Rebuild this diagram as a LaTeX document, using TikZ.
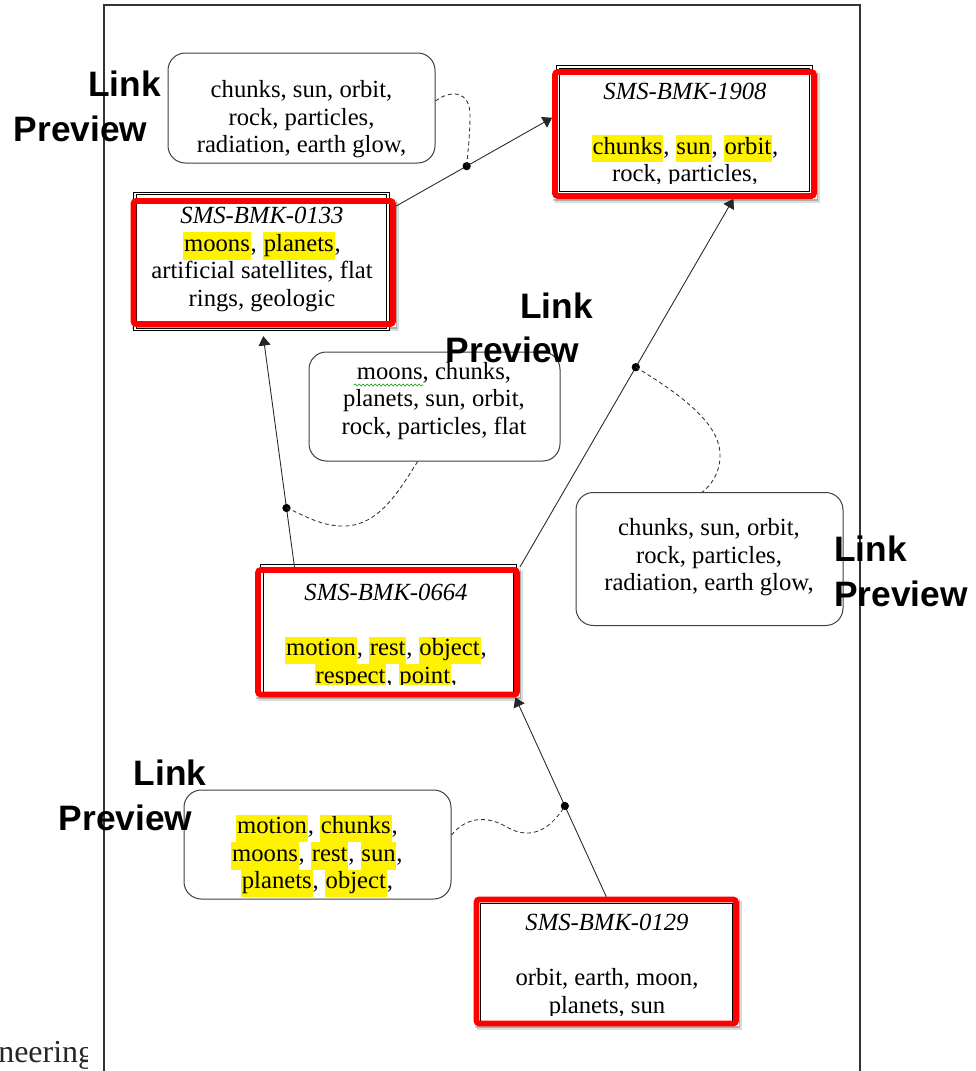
\documentclass[tikz,border=0pt]{standalone}
\usepackage{fontspec}
\setmainfont{Liberation Serif}
\newfontfamily\lblfont{Liberation Sans}
\usetikzlibrary{arrows.meta,fit,shadows,decorations.pathmorphing}

% yellow word highlight, one baselineskip tall so line spacing is kept
\newcommand\hlw[1]{{\setlength\fboxsep{0pt}\colorbox{yellow}{\rule[-0.3\baselineskip]{0pt}{\baselineskip}\kern0.6pt#1\kern0.6pt}}}

\tikzset{
  frameline/.style={draw=black!80, line width=0.8pt},
  lpbox/.style={draw=black!75, line width=0.75pt, rounded corners=13pt, inner sep=0pt, fill=white},
  redbox/.style={inner sep=2.15pt, outer sep=0pt, fill=white,
    drop shadow={shadow xshift=1pt, shadow yshift=-1.5pt, opacity=0.22, fill=black},
    drop shadow={shadow xshift=2.2pt, shadow yshift=-3pt, opacity=0.14, fill=black}},
  redline/.style={draw=red, line width=4.3pt, rounded corners=2pt},
  innerbox/.style={draw=black, line width=0.7pt, double=white, double distance=1.1pt, inner sep=0pt},
  boxtext/.style={font=\fontsize{18.5}{20.55}\selectfont, align=center, inner sep=0pt},
  lbl/.style={font={\lblfont\bfseries\fontsize{26.5}{30}\selectfont}, inner sep=0pt, anchor=base west},
  link/.style={draw=black!85, line width=0.65pt, -{Triangle[length=7pt,width=9pt]}},
  preview/.style={draw=black!80, line width=0.65pt, dash pattern=on 3pt off 2.2pt},
  dot/.style={circle, fill=black, inner sep=0pt, minimum size=6.2pt},
}

\begin{document}
\begin{tikzpicture}[x=0.75pt, y=-0.75pt]
\useasboundingbox (0,0) rectangle (975,1071);

% page frame and the cut-off word at the lower left
\draw[frameline] (104,1071) -- (104,5) -- (860,5) -- (860,1071);
\begin{scope}
  \clip (0,1030) rectangle (87,1071);
  \node[anchor=base west, inner sep=0pt, font=\fontsize{24}{28}\selectfont, text=black!85] (neer) at (-2,1062) {neering};
\end{scope}

% red frame corners (line centres)
\coordinate (a1908) at (555,72);    \coordinate (b1908) at (814,196);
\coordinate (a0133) at (133.5,201); \coordinate (b0133) at (393,324);
\coordinate (a0664) at (258,570);   \coordinate (b0664) at (517,694.5);
\coordinate (a0129) at (476.5,899.5); \coordinate (b0129) at (736,1023.5);

% white backgrounds with soft shadows
\node[redbox, fit=(a1908)(b1908)] (r1908) {};
\node[redbox, fit=(a0133)(b0133)] (r0133) {};
\node[redbox, fit=(a0664)(b0664)] (r0664) {};
\node[redbox, fit=(a0129)(b0129)] (r0129) {};

% inner document boxes
\node[innerbox, fit={(558,67) (811,193)}] (f1908) {};
\node[innerbox, fit={(135,193.5) (388,329.5)}] (f0133) {};
\node[innerbox, fit={(262,566) (515,694)}] (f0664) {};
\node[innerbox, fit={(479,902) (733.5,1024)}] (f0129) {};

% document texts
\begin{scope}
  \clip (556,60) rectangle (813,183.5);
  \node[boxtext] (t1908) at (685,134.9) {\strut\textit{SMS-BMK-1908}\\[20.55pt]
    \hlw{chunks}, \hlw{sun}, \hlw{orbit},\\ rock, particles,\strut};
\end{scope}
\node[boxtext] (t0133) at (262,259.6) {\strut\textit{SMS-BMK-0133}\\
  \hlw{moons}, \hlw{planets},\\ artificial satellites, flat\\ rings, geologic\strut};
\begin{scope}
  \clip (260,560) rectangle (517,684.5);
  \node[boxtext] (t0664) at (386,636.6) {\strut\textit{SMS-BMK-0664}\\[20.55pt]
    \hlw{motion}, \hlw{rest}, \hlw{object},\\ \hlw{respect}, \hlw{point},\strut};
\end{scope}
\begin{scope}
  \clip (477,895) rectangle (735,1015);
  \node[boxtext] (t0129) at (607,966.6) {\strut\textit{SMS-BMK-0129}\\[20.55pt]
    orbit, earth, moon,\\ planets, sun\strut};
\end{scope}

% red frames on top
\draw[redline] (a1908) rectangle (b1908);
\draw[redline] (a0133) rectangle (b0133);
\draw[redline] (a0664) rectangle (b0664);
\draw[redline] (a0129) rectangle (b0129);

% link preview boxes
\node[lpbox, fit={(168,53) (435,163)}] (lp1) {};
\node[lpbox, fit={(309,352) (560,461)}] (lp2) {};
\node[lpbox, fit={(576,492.5) (843,625.5)}] (lp3) {};
\node[lpbox, fit={(184,790) (451,899)}] (lp4) {};

\node[boxtext] (tlp1) at (301.5,119.9) {\strut chunks, sun, orbit,\\ rock, particles,\\ radiation, earth glow,\strut};
\node[boxtext] (tlp2) at (434,401.2) {\strut moons, chunks,\\ planets, sun, orbit,\\ rock, particles, flat\strut};
\node[boxtext] (tlp3) at (709,557.9) {\strut chunks, sun, orbit,\\ rock, particles,\\ radiation, earth glow,\strut};
\node[boxtext] (tlp4) at (317,855.9) {\strut\hlw{motion}, \hlw{chunks},\\ \hlw{moons}, \hlw{rest}, \hlw{sun},\\ \hlw{planets}, \hlw{object},\strut};

% spell-check squiggle
\draw[green!60!black, line width=0.4pt, decorate, decoration={snake, amplitude=0.7pt, segment length=3pt}] (354,385) -- (423,385);

% links between documents
\draw[link] (r0133.23) -- node[dot, pos=0.453] (d1) {} (r1908.173);
\draw[link] (r0664.145) -- node[dot, pos=0.256] (d2) {} ([yshift=-7pt]r0133.south);
\draw[link] (r0664.north east) -- node[dot, pos=0.543] (d3) {} (r1908.-53);
\draw[link] (r0129.north) -- node[dot, pos=0.455] (d4) {} (r0664.-27);

% previews attached to the links
\draw[preview] (lp1.3) .. controls (450,90) and (470,90) .. (470,115) .. controls (470,135) and (468,150) .. (d1.center);
\draw[preview] (lp2.-107) .. controls (398,492) and (378,528) .. (340,526) .. controls (318,525) and (302,514) .. (d2.center);
\draw[preview] (d3.center) .. controls (690,400) and (722,428) .. (720,458) .. controls (719,475) and (710,486) .. (lp3.96);
\draw[preview] (lp4.4) .. controls (465,818) and (485,815) .. (505,826) .. controls (528,840) and (548,833) .. (d4.center);

% labels
\node[lbl] (l1a) at (88,96.7) {Link};
\node[lbl] (l1b) at (13.5,141.7) {Preview};
\node[lbl] (l2a) at (520,318.3) {Link};
\node[lbl] (l2b) at (445.5,362.7) {Preview};
\node[lbl] (l3a) at (834,561.7) {Link};
\node[lbl] (l3b) at (834,606.7) {Preview};
\node[lbl] (l4a) at (133.5,785) {Link};
\node[lbl] (l4b) at (58.5,830.7) {Preview};
\end{tikzpicture}
\end{document}
